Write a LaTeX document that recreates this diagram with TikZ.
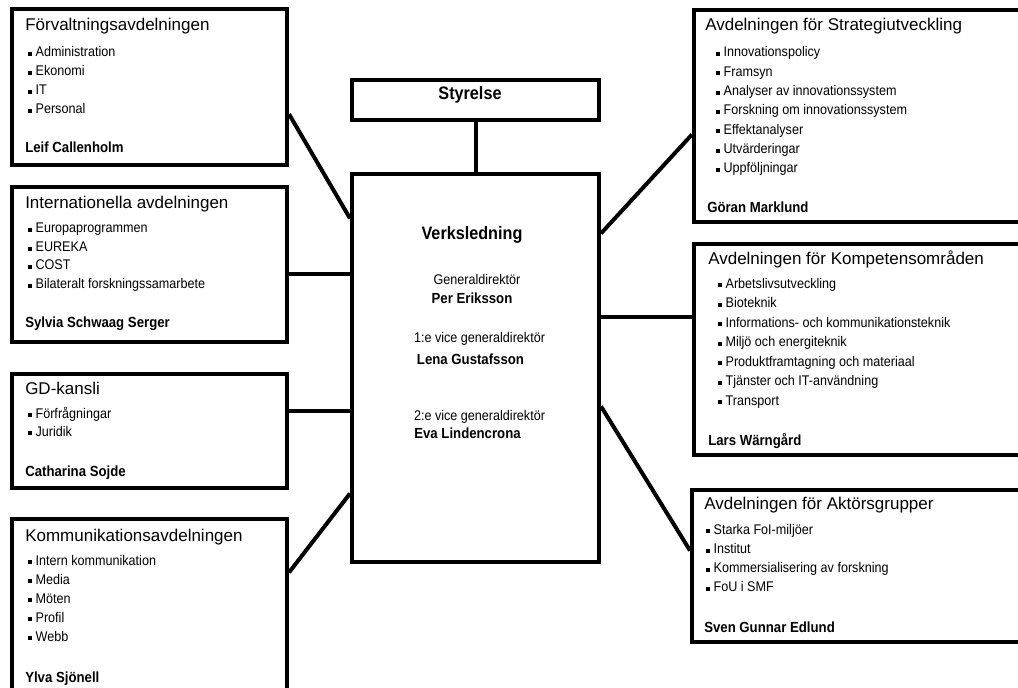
\documentclass[tikz,border=0pt]{standalone}
\usepackage{fontspec}
\setmainfont{Liberation Sans}
\newfontfamily\narrowfont{Liberation Sans}[FakeStretch=0.9]
\newcommand{\bul}{\rule[0.6pt]{3pt}{3pt}\hspace{2.5pt}}

\begin{document}
\begin{tikzpicture}[x=0.75pt,y=-0.75pt,
  box/.style={draw, line width=3pt, inner sep=0pt, anchor=north west},
  conn/.style={line width=3pt},
  dephead/.style={anchor=base west, inner sep=0pt, font=\fontsize{12.75}{15}\selectfont},
  depitem/.style={anchor=base west, inner sep=0pt, font=\narrowfont\fontsize{10.5}{12}\selectfont},
  depboss/.style={anchor=base west, inner sep=0pt, font=\narrowfont\bfseries\fontsize{11}{13}\selectfont},
  boardtext/.style={anchor=base, inner sep=0pt, font=\narrowfont\bfseries\fontsize{13.5}{16}\selectfont},
  mgmtrole/.style={anchor=base, inner sep=0pt, font=\narrowfont\fontsize{10.5}{12}\selectfont},
  mgmtname/.style={anchor=base, inner sep=0pt, font=\narrowfont\bfseries\fontsize{11}{13}\selectfont}]

\useasboundingbox (0,0) rectangle (1018,688);
\clip (0,0) rectangle (1018,688);

\node[box, minimum width=206.25pt, minimum height=117pt] (forv) at (10,7) {};
\node[box, minimum width=206.25pt, minimum height=116.25pt] (inter) at (10,185) {};
\node[box, minimum width=206.25pt, minimum height=85.5pt] (gd) at (10,372) {};
\node[box, minimum width=206.25pt, minimum height=152.25pt] (komm) at (10,517) {};
\node[box, minimum width=185.25pt, minimum height=30pt] (styr) at (350,78) {};
\node[box, minimum width=185.25pt, minimum height=291pt] (verk) at (350,172) {};
\node[box, minimum width=261pt, minimum height=159pt] (strat) at (692,8) {};
\node[box, minimum width=261pt, minimum height=158.25pt] (komp) at (692,242) {};
\node[box, minimum width=262.5pt, minimum height=114pt] (aktor) at (690,488) {};

\draw[conn] (forv.-11) -- (verk.130);
\draw[conn] (inter.-4) -- (inter.-4 -| verk.west);
\draw[conn] (gd.8) -- (gd.8 -| verk.west);
\draw[conn] (komm.19) -- (verk.-135);
\draw[conn] (styr.south) -- (verk.north);
\draw[conn] (verk.47) -- (strat.186);
\draw[conn] (verk.22) -- (verk.22 -| komp.west);
\draw[conn] (verk.-17) -- (aktor.175);

\node[boardtext] (styrt) at (470,99.5) {Styrelse};
\node[boardtext] (verkt) at (472,239.5) {Verksledning};
\node[mgmtrole] (gdrole) at (477,285) {Generaldirektör};
\node[mgmtname] (gdname) at (472,303.5) {Per Eriksson};
\node[mgmtrole] (vgd1role) at (479.5,342) {1:e vice generaldirektör};
\node[mgmtname] (vgd1name) at (470.5,364.5) {Lena Gustafsson};
\node[mgmtrole] (vgd2role) at (479.5,420) {2:e vice generaldirektör};
\node[mgmtname] (vgd2name) at (467.5,438.5) {Eva Lindencrona};

\node[dephead] (forvh) at ([shift={(15,24)}]forv.north west) {Förvaltningsavdelningen};
\foreach \t [count=\i] in {Administration,Ekonomi,IT,Personal}
  \node[depitem] (forv\i) at ([shift={(18,{49.7+18.9*(\i-1)})}]forv.north west) {\bul\t};
\node[depboss] (forvb) at ([shift={(15,145.5)}]forv.north west) {Leif Callenholm};

\node[dephead] (interh) at ([shift={(15,24)}]inter.north west) {Internationella avdelningen};
\foreach \t [count=\i] in {Europaprogrammen,EUREKA,COST,Bilateralt forskningssamarbete}
  \node[depitem] (inter\i) at ([shift={(18,{48+18.5*(\i-1)})}]inter.north west) {\bul\t};
\node[depboss] (interb) at ([shift={(15,142.5)}]inter.north west) {Sylvia Schwaag Serger};

\node[dephead] (gdh) at ([shift={(15,22)}]gd.north west) {GD-kansli};
\foreach \t [count=\i] in {Förfrågningar,Juridik}
  \node[depitem] (gd\i) at ([shift={(18,{46+18*(\i-1)})}]gd.north west) {\bul\t};
\node[depboss] (gdb) at ([shift={(15,104.5)}]gd.north west) {Catharina Sojde};

\node[dephead] (kommh) at ([shift={(15,24)}]komm.north west) {Kommunikationsavdelningen};
\foreach \t [count=\i] in {Intern kommunikation,Media,Möten,Profil,Webb}
  \node[depitem] (komm\i) at ([shift={(18,{48+19*(\i-1)})}]komm.north west) {\bul\t};
\node[depboss] (kommb) at ([shift={(15,165.5)}]komm.north west) {Ylva Sjönell};

\node[dephead] (strath) at ([shift={(13,23)}]strat.north west) {Avdelningen för Strategiutveckling};
\foreach \t [count=\i] in {Innovationspolicy,Framsyn,Analyser av innovationssystem,Forskning om innovationssystem,Effektanalyser,Utvärderingar,Uppföljningar}
  \node[depitem] (strat\i) at ([shift={(24,{49+19.3*(\i-1)})}]strat.north west) {\bul\t};
\node[depboss] (stratb) at ([shift={(15,204.5)}]strat.north west) {Göran Marklund};

\node[dephead] (komph) at ([shift={(16,22)}]komp.north west) {Avdelningen för Kompetensområden};
\foreach \t [count=\i] in {Arbetslivsutveckling,Bioteknik,Informations- och kommunikationsteknik,Miljö och energiteknik,Produktframtagning och materiaal,Tjänster och IT-användning,Transport}
  \node[depitem] (komp\i) at ([shift={(26,{46+19.5*(\i-1)})}]komp.north west) {\bul\t};
\node[depboss] (kompb) at ([shift={(16,203.5)}]komp.north west) {Lars Wärngård};

\node[dephead] (aktorh) at ([shift={(14,21)}]aktor.north west) {Avdelningen för Aktörsgrupper};
\foreach \t [count=\i] in {Starka FoI-miljöer,Institut,Kommersialisering av forskning,FoU i SMF}
  \node[depitem] (aktor\i) at ([shift={(16,{46+19.3*(\i-1)})}]aktor.north west) {\bul\t};
\node[depboss] (aktorb) at ([shift={(14,144.5)}]aktor.north west) {Sven Gunnar Edlund};
\end{tikzpicture}
\end{document}
